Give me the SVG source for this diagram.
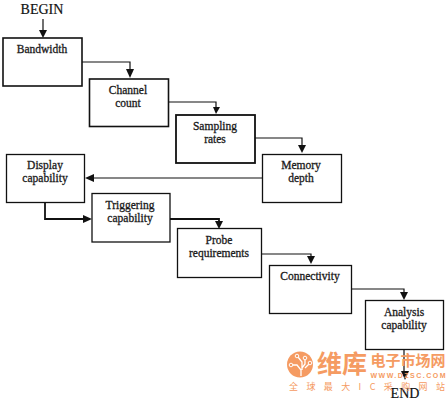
<svg xmlns="http://www.w3.org/2000/svg" width="447" height="402" viewBox="0 0 447 402">
<style>
.n{fill:#fff;stroke:#111;stroke-width:1.3}
.t{font:11.500px "Liberation Serif",serif;fill:#1a1a1a;stroke:#1a1a1a;stroke-width:.3;text-anchor:middle}
.e{font:14px "Liberation Serif",serif;fill:#111;stroke:#111;stroke-width:.2;text-anchor:middle}
.c{fill:none;stroke:#111;stroke-width:1.2}
.a{fill:#111;stroke:none}
.w{fill:#f59b62;text-anchor:middle;font-family:"Noto Sans CJK SC",sans-serif}
</style>
<rect width="447" height="402" fill="#fff"/>
<g id="connectors">
<path class="c" d="M43 19V32"/><path class="a" d="M39 30H47L43 38Z"/>
<path class="c" d="M82 62H130V70"/><path class="a" d="M126 69H134L130 78Z"/>
<path class="c" d="M168 102H216V108"/><path class="a" d="M213 107H220L216 114Z"/>
<path class="c" d="M255 138H302V146"/><path class="a" d="M298 145H306L302 153Z"/>
<path class="c" d="M262 178H92"/><path class="a" d="M94 174V182L85 178Z"/>
<path class="c" style="stroke-width:1.8" d="M45 202V219H85"/><path class="a" d="M83 215V223L92 219Z"/>
<path class="c" style="stroke-width:1.8" d="M170 219H219V222"/><path class="a" d="M215 221H223L219 229Z"/>
<path class="c" d="M262 254H311V257"/><path class="a" d="M307 256H315L311 264Z"/>
<path class="c" d="M352 289H404V293"/><path class="a" d="M400 292H408L404 300Z"/>
<path class="c" d="M404 349V376"/><path class="a" d="M401 371H409L405 380Z"/>
</g>
<g id="begin"><text class="e" x="42" y="14">BEGIN</text></g>
<g id="bandwidth"><rect class="n" style="stroke-width:1.6" x="3" y="38" width="79" height="48"/><text class="t" x="42" y="53">Bandwidth</text></g>
<g id="channel"><rect class="n" style="stroke-width:1.6" x="89.500" y="79" width="79" height="47.500"/><text class="t" x="128" y="94">Channel</text><text class="t" x="128" y="107">count</text></g>
<g id="sampling"><rect class="n" style="stroke-width:1.8" x="176" y="115" width="79" height="48"/><text class="t" x="215" y="130">Sampling</text><text class="t" x="215" y="143">rates</text></g>
<g id="memory"><rect class="n" x="262.500" y="154.500" width="79" height="48"/><text class="t" x="301" y="169">Memory</text><text class="t" x="301" y="182">depth</text></g>
<g id="display"><rect class="n" x="6.500" y="154.500" width="78" height="48"/><text class="t" x="45" y="169">Display</text><text class="t" x="45" y="182">capability</text></g>
<g id="triggering"><rect class="n" x="92" y="193.500" width="78" height="48.500"/><text class="t" x="130" y="209">Triggering</text><text class="t" x="130" y="222">capability</text></g>
<g id="probe"><rect class="n" x="177.500" y="228.500" width="84" height="49"/><text class="t" x="219" y="244">Probe</text><text class="t" x="219" y="257">requirements</text></g>
<g id="connectivity"><rect class="n" x="269.500" y="265.500" width="82" height="48"/><text class="t" x="310" y="280">Connectivity</text></g>
<g id="analysis"><rect class="n" x="365.500" y="300.500" width="78" height="49"/><text class="t" x="404" y="316">Analysis</text><text class="t" x="404" y="329">capability</text></g>
<g id="end"><text class="e" x="405" y="398">END</text></g>
<g id="watermark">
<circle cx="300" cy="364.500" r="13" fill="#f59b62"/>
<path d="M293 365h4l4 5v6M298 357l4 5v8M305 359v5l-3 4M309 364l-4 4" fill="none" stroke="#fff" stroke-width="1.300"/>
<circle cx="291" cy="365" r="1.800" fill="#f59b62" stroke="#fff"/><circle cx="297" cy="356" r="1.800" fill="#f59b62" stroke="#fff"/><circle cx="305" cy="358" r="1.800" fill="#f59b62" stroke="#fff"/><circle cx="310" cy="363" r="1.800" fill="#f59b62" stroke="#fff"/>
<text class="w" x="342" y="373" font-size="25" font-weight="700" textLength="50" lengthAdjust="spacingAndGlyphs">维库</text>
<text class="w" x="408" y="366" font-size="15" font-weight="700" textLength="75" lengthAdjust="spacingAndGlyphs">电子市场网</text>
<text class="w" x="408" y="377.500" font-size="7" style="font-family:'Liberation Sans',sans-serif" font-weight="700" textLength="75">WWW.DZSC.COM</text>
<text class="w" x="367" y="389.500" font-size="9" textLength="156">全球最大IC采购网站</text>
</g>
</svg>
